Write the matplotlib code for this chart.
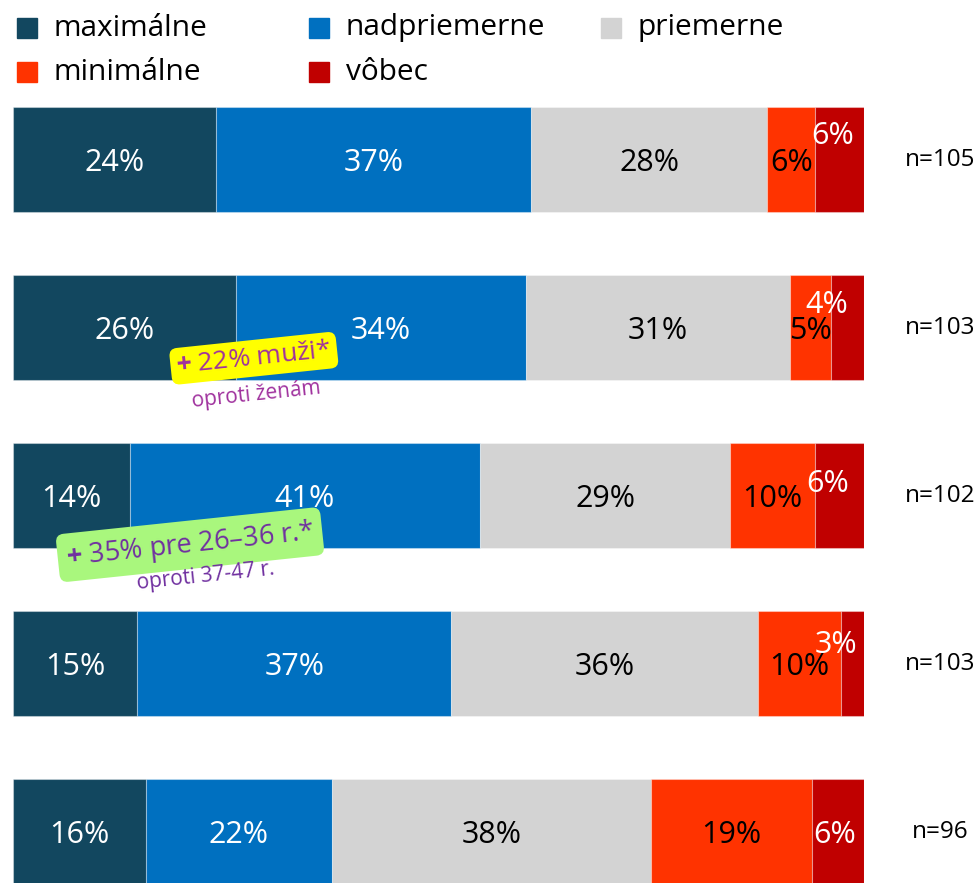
import matplotlib
matplotlib.use("Agg")
import matplotlib.pyplot as plt
from matplotlib.patches import Rectangle

plt.rcParams['font.family'] = ['Open Sans', 'DejaVu Sans']
plt.rcParams['mathtext.fontset'] = 'custom'
plt.rcParams['mathtext.bf'] = 'Open Sans:bold'
plt.rcParams['mathtext.rm'] = 'Open Sans'

# ---- data ----
categories = ["maximálne", "nadpriemerne", "priemerne", "minimálne", "vôbec"]
colors = ["#12475F", "#0070C0", "#D3D3D3", "#FF3300", "#C00000"]
label_colors = ["white", "white", "black", "black", "white"]
sample_sizes = ["n=105", "n=103", "n=102", "n=103", "n=96"]

maximalne    = [23.8, 26.2, 13.7, 14.6, 15.6]
nadpriemerne = [37.1, 34.1, 41.2, 36.9, 21.9]
priemerne    = [27.7, 31.0, 29.4, 36.0, 37.5]
minimalne    = [5.7, 4.8, 9.9, 9.8, 18.9]
vobec        = [5.7, 3.9, 5.8, 2.8, 6.1]

pct_labels = [
    ["24%", "37%", "28%", "6%", "6%"],
    ["26%", "34%", "31%", "5%", "4%"],
    ["14%", "41%", "29%", "10%", "6%"],
    ["15%", "37%", "36%", "10%", "3%"],
    ["16%", "22%", "38%", "19%", "6%"],
]

# label offsets in pixels (dx, dy) for crowded segments
offsets = {(0, 4): (-7, 27), (1, 4): (-21, 26), (2, 4): (-12, 15),
           (3, 4): (-17, 22), (4, 4): (-3, 0)}

series = [maximalne, nadpriemerne, priemerne, minimalne, vobec]

W, H = 977, 883
fig = plt.figure(figsize=(W / 100, H / 100), dpi=100)
ax = fig.add_axes([13 / W, 0, 851 / W, 1 - 100 / H])
ax.set_xlim(0, 100)
sp = 168.0
ax.set_ylim(4 + 51 / sp, -60 / sp)
ax.axis('off')

ypos = list(range(len(sample_sizes)))
left = [0.0] * len(ypos)
for j, (vals, col) in enumerate(zip(series, colors)):
    ax.barh(ypos, vals, left=left, height=105 / sp, color=col,
            edgecolor=(1, 1, 1, 0.35), linewidth=0.8, label=categories[j])
    for i, v in enumerate(vals):
        cx = left[i] + v / 2
        dx, dy = offsets.get((i, j), (0, 0))
        ax.annotate(pct_labels[i][j], (cx, ypos[i]), xytext=(dx, dy - 3),
                    textcoords='offset pixels', ha='center', va='center',
                    fontsize=22, color=label_colors[j], clip_on=False)
    left = [l + v for l, v in zip(left, vals)]

for i, n in enumerate(sample_sizes):
    ax.text((940 - 13) / 851 * 100, ypos[i], n, ha='center', va='center',
            fontsize=17.5, color='black', clip_on=False)

# legend (manual)
leg_pos = [(17, 28), (309, 28), (601, 28), (17, 72), (309, 72)]
for (px, py), name, col in zip(leg_pos, categories, colors):
    fig.add_artist(Rectangle((px / W, 1 - (py + 10) / H), 20 / W, 20 / H,
                             transform=fig.transFigure, color=col))
    fig.text((px + 37) / W, 1 - py / H, name, ha='left', va='center',
             fontsize=21.5, color='black')

# callouts
ax.text(28.3, 1.18, r"$\mathbf{+}$ 22% muži*", rotation=6, rotation_mode='anchor',
        ha='center', va='center', fontsize=19, color='#A0329E',
        bbox=dict(boxstyle='round,pad=0.22,rounding_size=0.3', fc='#FFFF00', ec='none'),
        zorder=5)
ax.text(28.6, 1.40, "oproti ženám", rotation=6, rotation_mode='anchor',
        ha='center', va='center', fontsize=15, color='#A0329E', zorder=5)

ax.text(20.8, 2.29, r"$\mathbf{+}$ 35% pre 26–36 r.*", rotation=6, rotation_mode='anchor',
        ha='center', va='center', fontsize=19.5, color='#7030A0',
        bbox=dict(boxstyle='round,pad=0.3,rounding_size=0.3', fc='#A9F77D', ec='none'),
        zorder=5)
ax.text(22.6, 2.48, "oproti 37-47 r.", rotation=6, rotation_mode='anchor',
        ha='center', va='center', fontsize=15, color='#7030A0', zorder=5)

fig.savefig("out.png", dpi=100)
